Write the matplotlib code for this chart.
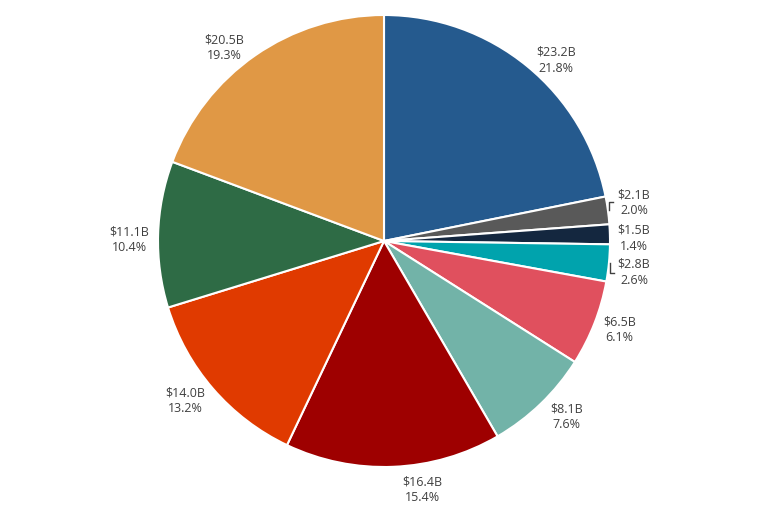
import numpy as np
import matplotlib
matplotlib.use("Agg")
import matplotlib.pyplot as plt

values = [23.2, 2.1, 1.5, 2.8, 6.5, 8.1, 16.4, 14.0, 11.1, 20.5]
pcts = [21.8, 2.0, 1.4, 2.6, 6.1, 7.6, 15.4, 13.2, 10.4, 19.3]
colors = ["#255A8E", "#595959", "#14273F", "#00A3AD", "#E0505E",
          "#72B3A8", "#9E0000", "#E03A00", "#2E6B45", "#E09845"]
# small pixel nudges so labels sit where the original puts them
nudges = [(12, -14), (0, 0), (0, 0), (0, 0), (1, 3),
          (8, 6), (28, 3), (-8, 5), (-3, -6), (-16, -14)]

W, H = 768, 512
cx, cy, R = 384, 512 - 241, 226

fig = plt.figure(figsize=(W / 100, H / 100), dpi=100)
ax = fig.add_axes([0, 0, 1, 1])

ax.pie(values, colors=colors, center=(cx, cy), radius=R, startangle=90,
       counterclock=False, frame=True,
       wedgeprops=dict(edgecolor="white", linewidth=1.5))
ax.set_xlim(0, W)
ax.set_ylim(0, H)
ax.axis("off")

fracs = np.array(values) / sum(values)
mids = np.cumsum(fracs) - fracs / 2
angles = np.deg2rad(90 - 360 * mids)

txt = dict(ha="center", va="center", fontsize=9, color="#404040",
           family="Open Sans", linespacing=1.3)
small = [1, 2, 3]
for i, (v, p, a) in enumerate(zip(values, pcts, angles)):
    if i in small:
        continue
    d = R + 26
    dx, dy = nudges[i]
    ax.text(cx + d * np.cos(a) + dx, cy + d * np.sin(a) + dy,
            f"${v:.1f}B\n{p:.1f}%", **txt)

# stacked labels for the thin slices on the right
lx = cx + R + 24
ys = [cy + 38, cy + 3, cy - 31]
for i, y in zip(small, ys):
    v, p, a = values[i], pcts[i], angles[i]
    ax.text(lx, y, f"${v:.1f}B\n{p:.1f}%", **txt)
    ex, ey = cx + (R + 1) * np.cos(a), cy + (R + 1) * np.sin(a)
    if i == 1:
        ty = y + 1
    elif i == 3:
        ty = y - 1
    else:
        continue
    ax.plot([ex, ex, ex + 4], [ey, ty, ty], color="#404040", lw=1)

fig.savefig("out.png", dpi=100, facecolor="white")
